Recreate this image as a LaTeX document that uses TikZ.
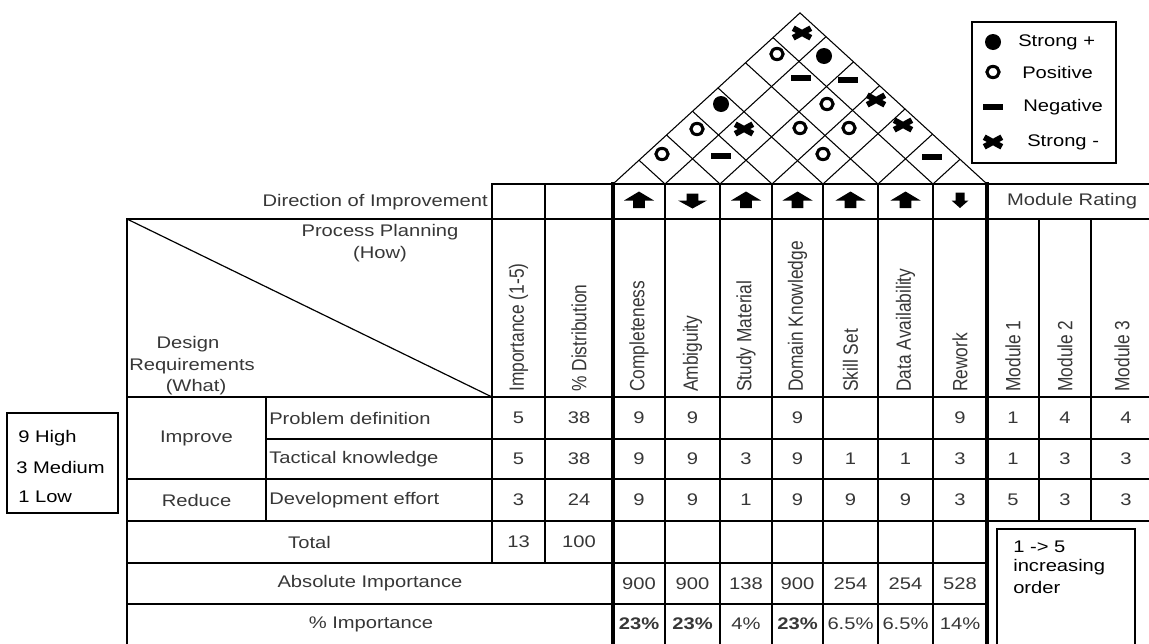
\documentclass[tikz,border=0pt]{standalone}
\usepackage{fontspec}
\setmainfont{Liberation Sans}[FakeStretch=1.2]
\newfontfamily\uprightlabel{Liberation Sans}[FakeStretch=0.84]
\definecolor{celltext}{RGB}{55,55,55}
\tikzset{
  gridrule/.style={line width=1.2pt, line cap=rect},
  heavyrule/.style={line width=2.6pt, line cap=rect},
  roofline/.style={line width=0.8pt},
  lbl/.style={inner sep=0pt, font=\fontsize{12.6}{15}\selectfont, text=celltext},
  keytext/.style={inner sep=0pt, anchor=west, font=\fontsize{12.6}{15}\selectfont, text=black},
  vlbl/.style={inner sep=0pt, rotate=90, anchor=west, font=\uprightlabel\fontsize{15.5}{18}\selectfont, text=celltext},
  symOpen/.pic={\draw[line width=2.3pt] (0,0) ellipse [x radius=6.1, y radius=5.6];},
  symFull/.pic={\fill (0,0) circle [radius=8];},
  symDash/.pic={\fill (-9.8,-2.8) rectangle (9.8,2.8);},
  symCross/.pic={\draw[line width=4.4pt] (-8.8,-4.8) -- (8.8,4.8) (-8.8,4.8) -- (8.8,-4.8);},
  arrowUp/.pic={\fill (0,-8.5) -- (15,0.5) -- (5.8,0.5) -- (5.8,8) -- (-5.8,8) -- (-5.8,0.5) -- (-15,0.5) -- cycle;},
  arrowDown/.pic={\fill (0,8.5) -- (14.5,0.5) -- (5.8,0.5) -- (5.8,-6.5) -- (-5.8,-6.5) -- (-5.8,0.5) -- (-14.5,0.5) -- cycle;},
  arrowDownSmall/.pic={\fill (0,8) -- (8.5,0.5) -- (4.5,0.5) -- (4.5,-7.5) -- (-4.5,-7.5) -- (-4.5,0.5) -- (-8.5,0.5) -- cycle;},
}
\begin{document}
\begin{tikzpicture}[x=0.75pt, y=-0.75pt]
\fill[white] (0,0) rectangle (1149,643);
\useasboundingbox (0,0) rectangle (1149,643);

% ---------- correlation roof ----------
\draw[roofline] (613,184) -- (800,12.9) -- (987,184);
\foreach \b in {665,720,772,823,878,933} {
  \draw[roofline] (\b,184) -- ({(\b+987)/2},{184-(987-\b)/2*0.915});
  \draw[roofline] (\b,184) -- ({(613+\b)/2},{184-(\b-613)/2*0.915});
}
% correlation symbols
\pic at (662,154) {symOpen};
\pic at (721,156) {symDash};
\pic at (823,154) {symOpen};
\pic at (932,157) {symDash};
\pic at (697,129) {symOpen};
\pic at (744,129) {symCross};
\pic at (800,128) {symOpen};
\pic at (849,128) {symOpen};
\pic at (903,125) {symCross};
\pic at (721,104) {symFull};
\pic at (827,104) {symOpen};
\pic at (876,100) {symCross};
\pic at (801,78) {symDash};
\pic at (848,80) {symDash};
\pic at (777,54) {symOpen};
\pic at (824,56) {symFull};
\pic at (802,33) {symCross};

% ---------- legend of correlation symbols ----------
\draw[line width=1pt] (972,22) rectangle (1116,163);
\pic at (993,42) {symFull};
\node[keytext] (kfull) at (1018,42) {Strong +};
\pic at (993,72) {symOpen};
\node[keytext] (kopen) at (1022,72) {Positive};
\pic at (993,107) {symDash};
\node[keytext] (kdash) at (1023,107) {Negative};
\pic at (993,142) {symCross};
\node[keytext] (kcross) at (1027,142) {Strong -};

% ---------- table rules ----------
\draw[gridrule] (492,184) -- (1160,184);
\draw[gridrule] (127,219) -- (1160,219);
\draw[gridrule] (127,397) -- (1160,397);
\draw[gridrule] (266,439) -- (1160,439);
\draw[gridrule] (127,479) -- (1160,479);
\draw[gridrule] (127,521) -- (1160,521);
\draw[gridrule] (127,563) -- (987,563);
\draw[gridrule] (127,604) -- (987,604);
\draw[gridrule] (127,219) -- (127,650);
\draw[gridrule] (266,397) -- (266,521);
\draw[gridrule] (492,184) -- (492,563);
\draw[gridrule] (545,184) -- (545,563);
\foreach \x in {665,720,772,823,878,933}
  \draw[gridrule] (\x,184) -- (\x,650);
\draw[gridrule] (1039,219) -- (1039,521);
\draw[gridrule] (1091,219) -- (1091,521);
\draw[heavyrule] (613,184) -- (613,650);
\draw[heavyrule] (987,184) -- (987,650);
\draw[line width=0.9pt] (127,219) -- (492,397);

% ---------- header ----------
\node[lbl, anchor=east] (dir) at (488,202) {Direction of Improvement};
\pic at (639,200) {arrowUp};
\pic at (692.5,200) {arrowDown};
\pic at (746,200) {arrowUp};
\pic at (797.5,200) {arrowUp};
\pic at (850.5,200) {arrowUp};
\pic at (905.5,200) {arrowUp};
\pic at (960,200) {arrowDownSmall};
\node[lbl] (rating) at (1072,201) {Module Rating};

\node[lbl] (how1) at (380,232) {Process Planning};
\node[lbl] (how2) at (380,254) {(How)};
\node[lbl] (what1) at (188,344) {Design};
\node[lbl] (what2) at (192,366) {Requirements};
\node[lbl] (what3) at (196,387) {(What)};

\foreach \t/\x [count=\k] in {Importance (1-5)/518.5, \% Distribution/579,
    Completeness/639, Ambiguity/692.5, Study Material/746,
    Domain Knowledge/797.5, Skill Set/850.5, Data Availability/905.5,
    Rework/960, Module 1/1013, Module 2/1065, Module 3/1122}
  \node[vlbl] (head\k) at (\x,392) {\t};

% ---------- body ----------
\node[lbl] (grpA) at (196.5,438) {Improve};
\node[lbl] (grpB) at (196.5,500) {Reduce};
\node[lbl, anchor=west] (req1) at (269,418) {Problem definition};
\node[lbl, anchor=west] (req2) at (269,459) {Tactical knowledge};
\node[lbl, anchor=west] (req3) at (269,500) {Development effort};

\foreach \v/\x [count=\k] in {5/518.5,38/579,9/639,9/692.5,9/797.5,9/960,1/1013,4/1065,4/1126}
  \node[lbl] (ra\k) at (\x,418) {\v};
\foreach \v/\x [count=\k] in {5/518.5,38/579,9/639,9/692.5,3/746,9/797.5,1/850.5,1/905.5,3/960,1/1013,3/1065,3/1126}
  \node[lbl] (rb\k) at (\x,459) {\v};
\foreach \v/\x [count=\k] in {3/518.5,24/579,9/639,9/692.5,1/746,9/797.5,9/850.5,9/905.5,3/960,5/1013,3/1065,3/1126}
  \node[lbl] (rc\k) at (\x,500) {\v};

\node[lbl] (tot) at (309.5,542) {Total};
\node[lbl] (tot1) at (518.5,542) {13};
\node[lbl] (tot2) at (579,542) {100};

\node[lbl] (absl) at (370,583.5) {Absolute Importance};
\foreach \v/\x [count=\k] in {900/639,900/692.5,138/746,900/797.5,254/850.5,254/905.5,528/960}
  \node[lbl] (abs\k) at (\x,583.5) {\v};

\node[lbl] (pctl) at (371,624) {\% Importance};
\node[lbl] (pct1) at (639,624) {\bfseries 23\%};
\node[lbl] (pct2) at (692.5,624) {\bfseries 23\%};
\node[lbl] (pct3) at (746,624) {4\%};
\node[lbl] (pct4) at (797.5,624) {\bfseries 23\%};
\node[lbl] (pct5) at (850.5,624) {6.5\%};
\node[lbl] (pct6) at (905.5,624) {6.5\%};
\node[lbl] (pct7) at (960,624) {14\%};

% ---------- rating scale notes ----------
\draw[line width=1pt] (997,660) -- (997,529) -- (1135,529) -- (1135,660);
\node[keytext] (ord1) at (1013,547) {1 -> 5};
\node[keytext] (ord2) at (1013,567) {increasing};
\node[keytext] (ord3) at (1013,587) {order};

\draw[line width=1pt] (7,413) rectangle (118,513);
\node[keytext] (sc9) at (18,438) {9 High};
\node[keytext] (sc3) at (16,467) {3 Medium};
\node[keytext] (sc1) at (18,497) {1 Low};
\end{tikzpicture}
\end{document}
